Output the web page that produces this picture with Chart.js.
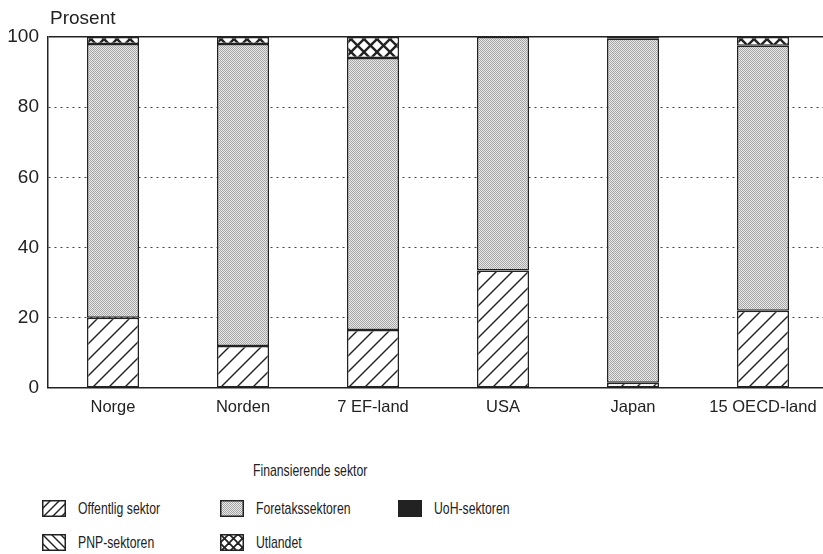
<!DOCTYPE html>
<html>
<head>
<meta charset="utf-8">
<script src="https://cdn.jsdelivr.net/npm/chart.js@4"></script>
<style>
  html, body { margin: 0; padding: 0; background: #fff; overflow: hidden; }
  body { width: 823px; height: 554px; position: relative; font-family: 'Liberation Sans', Arial, sans-serif; color: #222; }
  #wrap { position: absolute; left: 0; top: 0; width: 828px; height: 420px; }
  .lg-title, .lg-item span { position: absolute; font-size: 17px; white-space: nowrap; transform: scaleX(0.72); transform-origin: left center; line-height: 16px; }
  .lg-item canvas { position: absolute; }
</style>
</head>
<body>
<div id="wrap"><canvas id="c"></canvas></div>
<div id="legend"></div>
<script>
// Finansierende sektor, andel i prosent
const categories = ['Norge', 'Norden', '7 EF-land', 'USA', 'Japan', '15 OECD-land'];
const offentlig = [20, 12, 16.5, 33.5, 1.5, 22];
const foretak = [78, 86, 77.5, 66.5, 98, 75.5];
const uoh = [0, 0, 0, 0, 0.5, 0];
const pnp = [0, 0, 0, 0, 0, 0];
const utlandet = [2, 2, 6, 0, 0, 2.5];
const yTicks = [0, 20, 40, 60, 80, 100];

const INK = '#222';

// pattern helpers
function hatch(ctx, p, dir, lw) {
  const t = document.createElement('canvas');
  t.width = p; t.height = p;
  const g = t.getContext('2d');
  g.fillStyle = '#fff'; g.fillRect(0, 0, p, p);
  g.strokeStyle = INK; g.lineWidth = lw;
  const seg = (x1, y1, x2, y2) => { g.beginPath(); g.moveTo(x1, y1); g.lineTo(x2, y2); g.stroke(); };
  if (dir === '/' || dir === 'x') {
    seg(-2, p + 2, p + 2, -2); seg(-2, 2, 2, -2); seg(p - 2, p + 2, p + 2, p - 2);
  }
  if (dir === '\\' || dir === 'x') {
    seg(-2, -2, p + 2, p + 2); seg(p - 2, -2, p + 2, 2); seg(-2, p - 2, 2, p + 2);
  }
  return ctx.createPattern(t, 'repeat');
}
function dots(ctx) {
  const t = document.createElement('canvas');
  t.width = 2; t.height = 2;
  const g = t.getContext('2d');
  g.fillStyle = '#e8e8e8'; g.fillRect(0, 0, 2, 2);
  g.fillStyle = '#a6a6a6'; g.fillRect(0, 0, 1, 1); g.fillRect(1, 1, 1, 1);
  return ctx.createPattern(t, 'repeat');
}

const cctx = document.getElementById('c').getContext('2d');
const fills = {
  off: hatch(cctx, 16, '/', 1.4),
  fore: dots(cctx),
  uoh: '#222',
  pnp: hatch(cctx, 16, '\\', 1.4),
  utl: hatch(cctx, 13, 'x', 2.4)
};

const seriesDefs = [
  { label: 'Offentlig sektor', data: offentlig, fill: fills.off },
  { label: 'Foretakssektoren', data: foretak, fill: fills.fore },
  { label: 'UoH-sektoren', data: uoh, fill: fills.uoh },
  { label: 'PNP-sektoren', data: pnp, fill: fills.pnp },
  { label: 'Utlandet', data: utlandet, fill: fills.utl }
];

const prosentLabel = {
  id: 'prosentLabel',
  afterDraw(chart) {
    const { ctx, chartArea } = chart;
    ctx.save();
    ctx.fillStyle = INK;
    ctx.font = "19px 'Liberation Sans', Arial, sans-serif";
    ctx.textBaseline = 'alphabetic';
    ctx.fillText('Prosent', chartArea.left + 2, 24);
    ctx.restore();
  }
};

new Chart(cctx, {
  type: 'bar',
  data: {
    labels: categories,
    datasets: seriesDefs.map(s => ({
      label: s.label,
      data: s.data,
      backgroundColor: s.fill,
      borderColor: INK,
      borderWidth: 1.5,
      borderSkipped: false,
      categoryPercentage: 1,
      barPercentage: 0.4
    }))
  },
  options: {
    responsive: true,
    maintainAspectRatio: false,
    animation: false,
    layout: { padding: { top: 37, left: 0, right: 0, bottom: 0 } },
    plugins: { legend: { display: false }, tooltip: { enabled: false } },
    scales: {
      x: {
        stacked: true,
        grid: { display: false, drawTicks: false },
        border: { display: true, color: INK, width: 1.5 },
        ticks: { color: INK, padding: 10, font: { size: 16.5, family: "'Liberation Sans', Arial, sans-serif" } },
        afterFit: s => { s.height = 32; }
      },
      y: {
        stacked: true,
        min: 0,
        max: 100,
        afterBuildTicks: s => { s.ticks = yTicks.map(v => ({ value: v })); },
        grid: {
          drawTicks: false,
          color: c => (c.tick && c.tick.value === 100) ? INK : (c.tick && c.tick.value === 0 ? 'rgba(0,0,0,0)' : '#444'),
          lineWidth: c => (c.tick && c.tick.value === 100) ? 1.6 : 1.1
        },
        border: { display: true, color: INK, width: 1.5, dash: c => (c.tick && c.tick.value === 100) ? [] : [2, 4] },
        ticks: { color: INK, padding: 9, font: { size: 19, family: "'Liberation Sans', Arial, sans-serif" } },
        afterFit: s => { s.width = 48; }
      }
    }
  },
  plugins: [prosentLabel]
});

// legend built from the same series
const legend = document.getElementById('legend');
const title = document.createElement('div');
title.className = 'lg-title';
title.textContent = 'Finansierende sektor';
title.style.left = '253px';
title.style.top = '463px';
legend.appendChild(title);

const slots = [
  { x: 42, y: 500 }, { x: 220, y: 500 }, { x: 398, y: 500 },
  { x: 42, y: 534 }, { x: 220, y: 534 }
];
const swFills = [
  (g) => hatch(g, 9, '/', 1.4), (g) => dots(g), () => '#222',
  (g) => hatch(g, 9, '\\', 1.4), (g) => hatch(g, 9, 'x', 1.8)
];
seriesDefs.forEach((s, i) => {
  const item = document.createElement('div');
  item.className = 'lg-item';
  const sw = document.createElement('canvas');
  sw.width = 24; sw.height = 17;
  sw.style.left = slots[i].x + 'px';
  sw.style.top = slots[i].y + 'px';
  const g = sw.getContext('2d');
  g.fillStyle = swFills[i](g);
  g.fillRect(0, 0, 24, 17);
  g.strokeStyle = INK; g.lineWidth = 1.5;
  g.strokeRect(0.75, 0.75, 22.5, 15.5);
  const t = document.createElement('span');
  t.textContent = s.label;
  t.style.left = (slots[i].x + 36) + 'px';
  t.style.top = (slots[i].y + 1) + 'px';
  item.appendChild(sw);
  item.appendChild(t);
  legend.appendChild(item);
});
</script>
</body>
</html>
